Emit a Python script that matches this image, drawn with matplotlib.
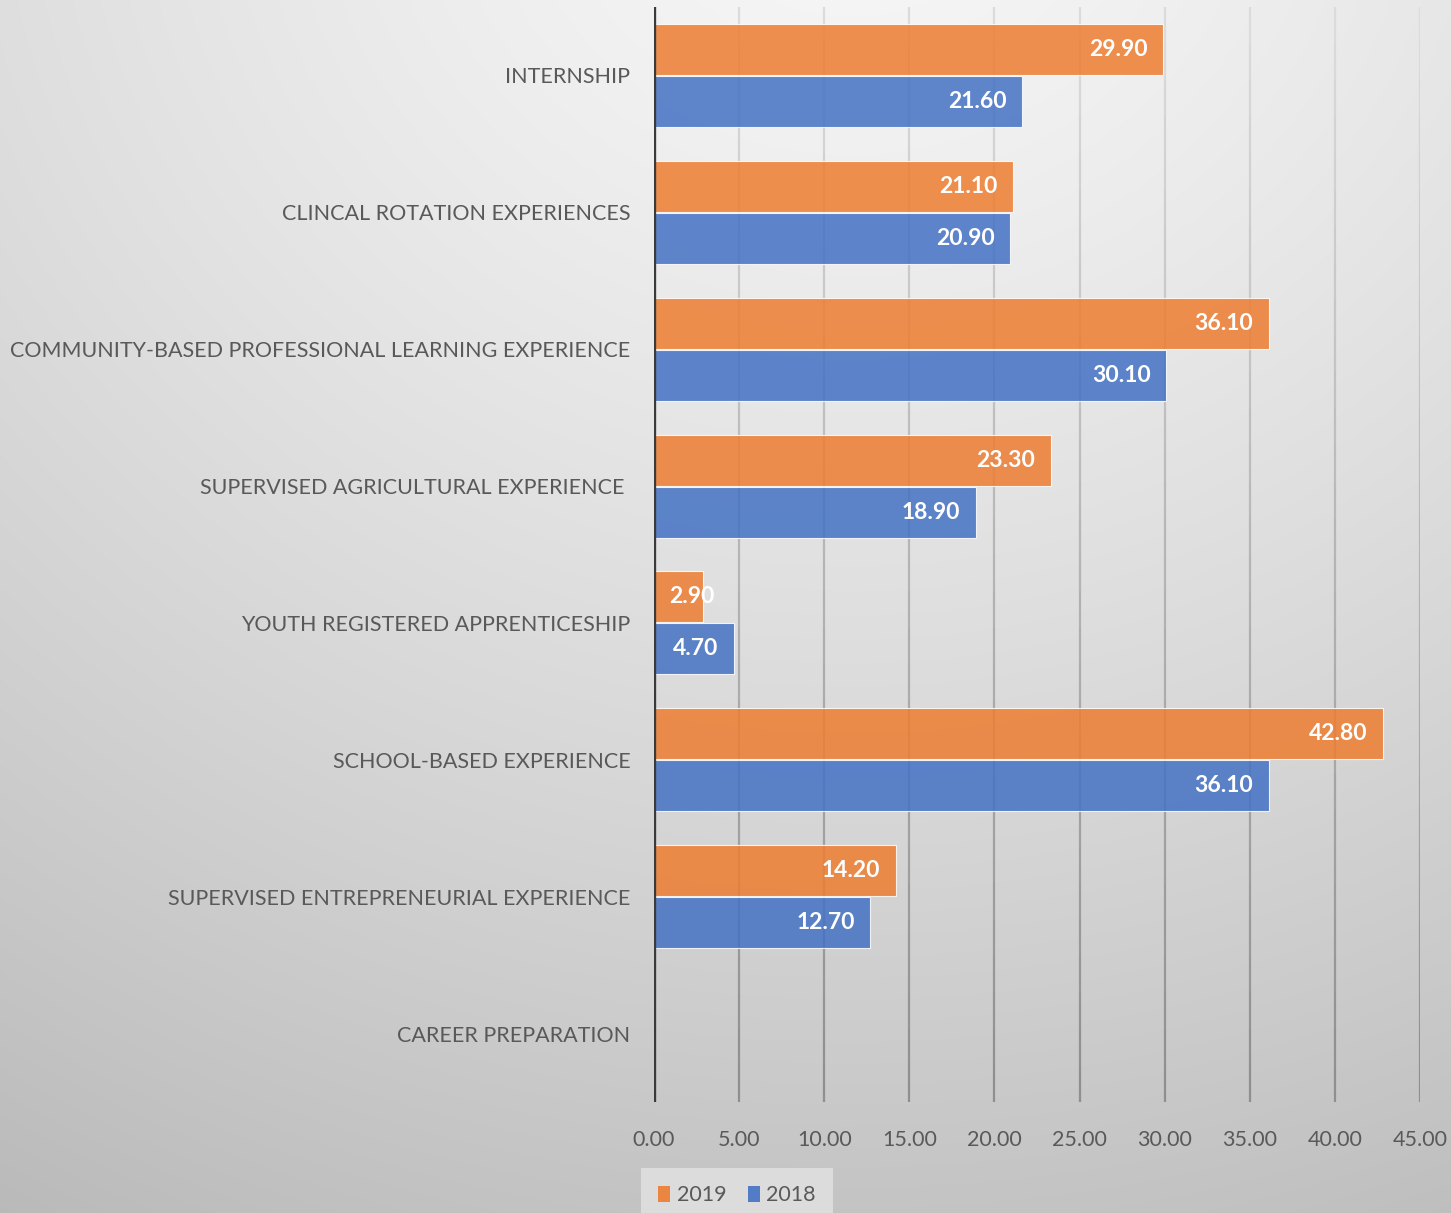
import numpy as np
import matplotlib
matplotlib.use("Agg")
import matplotlib.pyplot as plt
from matplotlib.patches import Patch
from matplotlib.collections import LineCollection
from matplotlib import font_manager

# ---- data ----
categories = [
    "INTERNSHIP",
    "CLINCAL ROTATION EXPERIENCES",
    "COMMUNITY-BASED PROFESSIONAL LEARNING EXPERIENCE",
    "SUPERVISED AGRICULTURAL EXPERIENCE ",
    "YOUTH REGISTERED APPRENTICESHIP",
    "SCHOOL-BASED EXPERIENCE",
    "SUPERVISED ENTREPRENEURIAL EXPERIENCE",
    "CAREER PREPARATION",
]
values_2019 = [29.9, 21.1, 36.1, 23.3, 2.9, 42.8, 14.2, None]
values_2018 = [21.6, 20.9, 30.1, 18.9, 4.7, 36.1, 12.7, None]
series_names = ["2019", "2018"]
x_ticks = [0, 5, 10, 15, 20, 25, 30, 35, 40, 45]

# ---- style ----
available = {f.name for f in font_manager.fontManager.ttflist}
family = "Lato" if "Lato" in available else "DejaVu Sans"
plt.rcParams["font.family"] = [family, "DejaVu Sans"]

orange = "#ED7D31"
blue = "#4472C4"
text_gray = "#595959"

W, H, DPI = 1451, 1213, 100
fig = plt.figure(figsize=(W / DPI, H / DPI), dpi=DPI)

# soft radial background
bg = fig.add_axes([0, 0, 1, 1], zorder=-10)
yy, xx = np.mgrid[0:H, 0:W]
r = np.hypot((xx - 850) / 1500.0, (yy + 150) / 1350.0)
shade = 0.97 - 0.2 * r ** 1.3
shade = np.dstack([shade] * 3).clip(0, 1)
bg.imshow(shade, aspect="auto", extent=[0, 1, 0, 1], interpolation="bilinear")
bg.set_axis_off()

ax = fig.add_axes([654 / W, 1 - 1102 / H, (1420 - 654) / W, (1102 - 7) / H])
ax.patch.set_alpha(0)

n = len(categories)
ypos = np.arange(n)[::-1]  # first category at the top
bar_h = 0.373
off = 0.19

v19 = np.array([np.nan if v is None else v for v in values_2019])
v18 = np.array([np.nan if v is None else v for v in values_2018])

b19 = ax.barh(ypos + off, np.nan_to_num(v19), height=bar_h, color=orange,
              alpha=0.85, edgecolor=(1, 1, 1, 0.6), linewidth=0.8, zorder=3)
b18 = ax.barh(ypos - off, np.nan_to_num(v18), height=bar_h, color=blue,
              alpha=0.85, edgecolor=(1, 1, 1, 0.6), linewidth=0.8, zorder=3)

ax.set_xlim(0, 45)
ax.set_ylim(-0.5, n - 0.5)

labels = []
for bars, vals in ((b19, v19), (b18, v18)):
    for rect, v in zip(bars, vals):
        if np.isnan(v):
            continue
        t = ax.annotate(f"{v:.2f}", xy=(v, rect.get_y() + rect.get_height() / 2),
                        xytext=(-11, 0), textcoords="offset points",
                        ha="right", va="center", color="white",
                        fontsize=16.5, fontweight="bold", zorder=5)
        labels.append(t)

# vertical gridlines, fading darker toward the bottom
segs, cols = [], []
steps = 30
ys = np.linspace(n - 0.5, -0.5, steps + 1)
for t in x_ticks[1:]:
    for i in range(steps):
        segs.append([(t, ys[i]), (t, ys[i + 1])])
        f = i / (steps - 1)
        g = 0.86 - 0.30 * f
        cols.append((g, g, g, 1))
ax.add_collection(LineCollection(segs, colors=cols, linewidths=1.6, zorder=1))

for s in ax.spines.values():
    s.set_visible(False)
ax.axvline(0, color="#3a3a3a", linewidth=2.4, zorder=4)

ax.set_xticks(x_ticks)
ax.set_xticklabels([f"{t:.2f}" for t in x_ticks])
ax.set_yticks(ypos)
ax.set_yticklabels(categories)
ax.tick_params(axis="both", length=0, colors=text_gray, labelsize=15.5)
ax.tick_params(axis="y", pad=17)
ax.tick_params(axis="x", pad=20)

handles = [Patch(facecolor=orange, alpha=0.9), Patch(facecolor=blue, alpha=0.9)]
leg = fig.legend(handles, series_names, loc="lower left",
                 bbox_to_anchor=(641 / W, -0.008), ncol=2, frameon=True,
                 fancybox=False, facecolor="#dcdcdc", edgecolor="none",
                 framealpha=1, fontsize=15.5, handlelength=0.55,
                 handleheight=0.75, handletextpad=0.3, columnspacing=1.0,
                 borderpad=0.8, borderaxespad=0)
for txt in leg.get_texts():
    txt.set_color(text_gray)

# labels that would spill past the axis start are pinned just inside it
fig.canvas.draw()
renderer = fig.canvas.get_renderer()
axis_left = ax.transData.transform((0, 0))[0]
for t in labels:
    bb = t.get_window_extent(renderer)
    if bb.x0 < axis_left + 16:
        t.set_ha("left")
        t.xy = (0, t.xy[1])
        t.set_position((11, 0))

fig.savefig("out.png", dpi=DPI)
